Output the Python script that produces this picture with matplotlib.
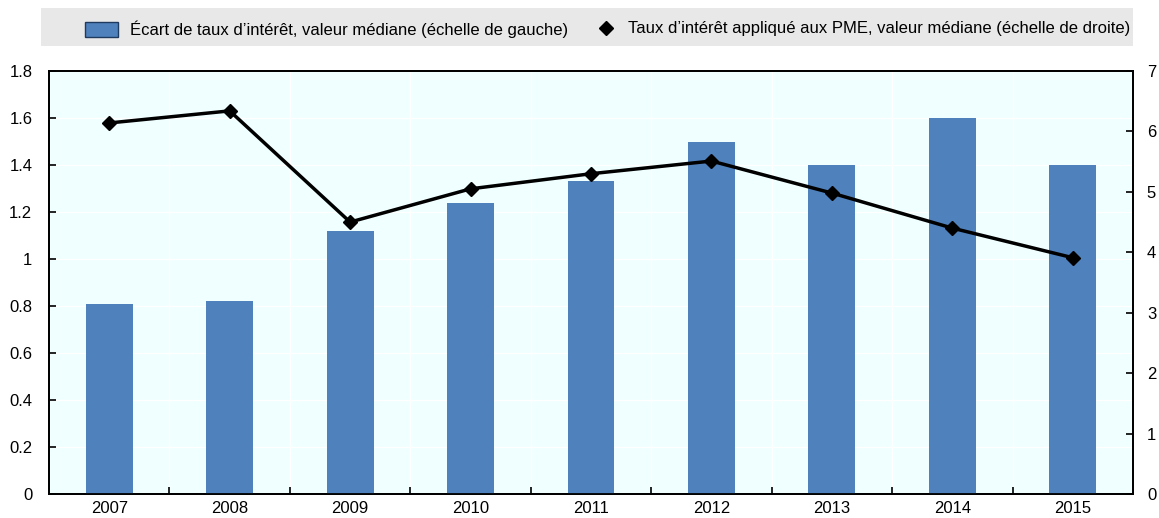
import matplotlib
matplotlib.use("Agg")
from matplotlib import pyplot as plt
from matplotlib.patches import Rectangle
from matplotlib.lines import Line2D
import numpy as np

plt.rcParams['font.family'] = ['Liberation Sans', 'DejaVu Sans']

years = ['2007', '2008', '2009', '2010', '2011', '2012', '2013', '2014', '2015']
spread = [0.81, 0.82, 1.12, 1.24, 1.33, 1.50, 1.40, 1.60, 1.40]
sme_rate = [6.14, 6.34, 4.50, 5.05, 5.30, 5.51, 4.98, 4.40, 3.91]

bar_label = "Écart de taux d’intérêt, valeur médiane (échelle de gauche)"
line_label = "Taux d’intérêt appliqué aux PME, valeur médiane (échelle de droite)"

W, H = 1159, 518
fig = plt.figure(figsize=(W / 100, H / 100), dpi=100)
ax = fig.add_axes([49 / W, 1 - 494 / H, (1133 - 49) / W, (494 - 71) / H])
ax2 = ax.twinx()

x = np.arange(len(years))
ax.set_facecolor('#F0FFFF')
bars = ax.bar(x, spread, width=0.39, color='#4F81BD', zorder=3)
ax2.plot(x, sme_rate, color='black', lw=2.5, marker='D', ms=7, zorder=4)

# light gridlines: horizontal at left ticks, vertical at category boundaries
for y in np.arange(0.2, 1.8, 0.2):
    ax.axhline(y, color='white', lw=1, zorder=1)
for b in np.arange(0.5, len(years) - 0.5, 1):
    ax.axvline(b, color='white', lw=1, zorder=1)

ax.set_xlim(-0.5, len(years) - 0.5)
ax.set_ylim(0, 1.8)
ax2.set_ylim(0, 7)
ax.set_yticks(np.arange(0, 1.81, 0.2))
ax.set_yticklabels(['0', '0.2', '0.4', '0.6', '0.8', '1', '1.2', '1.4', '1.6', '1.8'])
ax2.set_yticks(range(0, 8))

ax.set_xticks(x)
ax.set_xticklabels(years)
ax.set_xticks(np.arange(0.5, len(years) - 0.5, 1), minor=True)
ax.tick_params(axis='x', which='major', length=0, labelsize=12, pad=5)
ax.tick_params(axis='x', which='minor', direction='in', length=5, width=1.2)
ax.tick_params(axis='y', direction='in', length=5, width=1.2, labelsize=12, pad=12)
ax2.tick_params(axis='y', direction='in', length=5, width=1.2, labelsize=12, pad=10)

for a in (ax, ax2):
    for s in a.spines.values():
        s.set_linewidth(1.3)

# legend band above the plot
fig.patches.append(Rectangle((41 / W, 1 - 46 / H), (1133 - 41) / W, 38 / H,
                             transform=fig.transFigure, facecolor='#E8E8E8',
                             edgecolor='none', zorder=0))
h_bar = Rectangle((0, 0), 1, 1, facecolor='#4F81BD', edgecolor='#1F3A5F', lw=1)
h_line = Line2D([], [], color='black', marker='D', ms=7, linestyle='none')
fig.legend([h_bar], [bar_label], loc='center left',
           bbox_to_anchor=(78 / W, 1 - 29 / H), frameon=False, fontsize=12,
           handlelength=2.0, handleheight=1.0, handletextpad=0.7, borderaxespad=0)
fig.legend([h_line], [line_label], loc='center left',
           bbox_to_anchor=(586 / W, 1 - 29 / H), frameon=False, fontsize=12,
           handlelength=1.6, handletextpad=0.5, borderaxespad=0)

fig.savefig('out.png', dpi=100)
